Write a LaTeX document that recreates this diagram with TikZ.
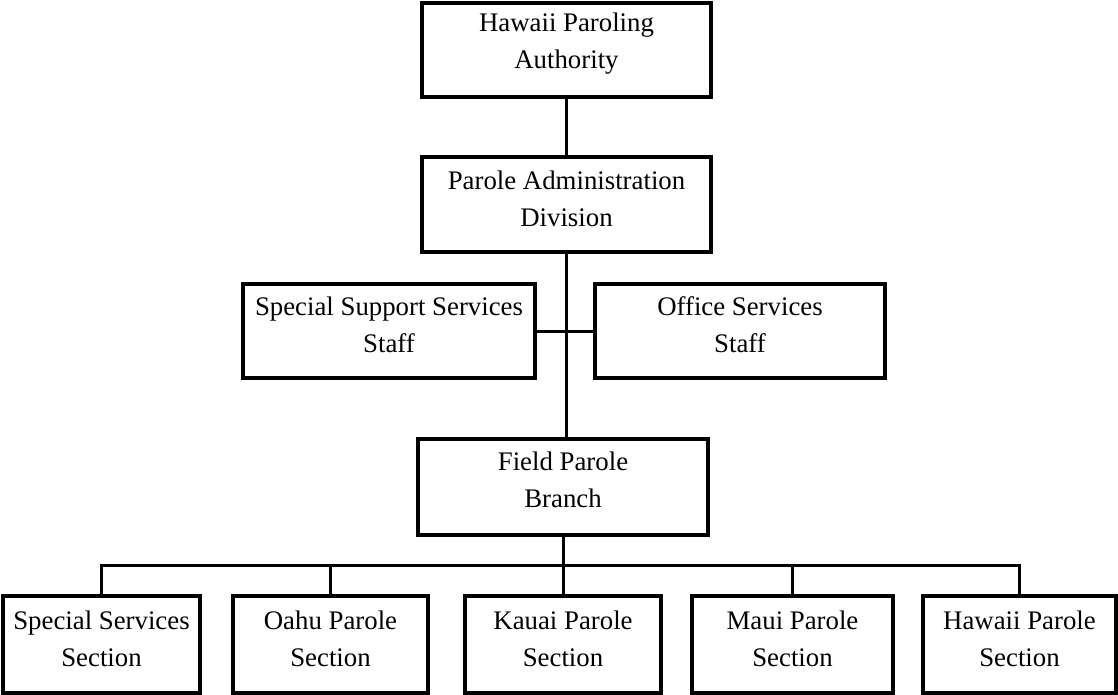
\documentclass[tikz,border=0pt]{standalone}
\usepackage{fontspec}
\setmainfont{Liberation Serif}
\begin{document}
\begin{tikzpicture}[x=1pt,y=-1pt,
  box/.style={draw=black,line width=3.2pt,minimum width=289pt,minimum height=94pt,inner sep=0pt},
  sbox/.style={box,minimum width=197pt,minimum height=97pt},
  lbl/.style={align=center,font=\fontsize{26.8}{37}\selectfont,inner sep=0pt},
  conn/.style={draw=black,line width=3pt}]
\useasboundingbox[fill=white] (0,0) rectangle (1118,694);
% boxes
\node[box] (hpa) at (566.5,50) {};
\node[box,minimum height=95pt] (pad) at (566.5,204.5) {};
\node[box,minimum width=292pt] (sss) at (389,331) {};
\node[box,minimum width=290pt] (oss) at (740,331) {};
\node[box,minimum width=290pt,minimum height=96pt] (fpb) at (563,487) {};
\node[sbox] (ssec) at (101.5,644.5) {};
\node[sbox,minimum width=195pt] (oahu) at (330.5,644.5) {};
\node[sbox,minimum width=196pt] (kauai) at (563,644.5) {};
\node[sbox,minimum width=201pt] (maui) at (792.5,644.5) {};
\node[sbox,minimum width=193pt] (hawaii) at (1019.5,644.5) {};
% labels
\node[lbl] at ([yshift=6pt]hpa.center) {Hawaii Paroling\\Authority};
\node[lbl] at ([yshift=6pt]pad.center) {Parole Administration\\Division};
\node[lbl] at ([yshift=6pt]sss.center) {Special Support Services\\Staff};
\node[lbl] at ([yshift=6pt]oss.center) {Office Services\\Staff};
\node[lbl] at ([yshift=7pt]fpb.center) {Field Parole\\Branch};
\node[lbl] at ([yshift=6pt]ssec.center) {Special Services\\Section};
\node[lbl] at ([yshift=6pt]oahu.center) {Oahu Parole\\Section};
\node[lbl] at ([yshift=6pt]kauai.center) {Kauai Parole\\Section};
\node[lbl] at ([yshift=6pt]maui.center) {Maui Parole\\Section};
\node[lbl] at ([yshift=6pt]hawaii.center) {Hawaii Parole\\Section};
% connectors
\coordinate (bus) at (563,565);
\path[conn] (hpa.south) -- (pad.north);
\path[conn] (pad.south) -- (pad.south |- fpb.north);
\path[conn] (sss.east) -- (oss.west);
\path[conn] (fpb.south) -- (kauai.north);
\path[conn] (ssec.north) |- (bus) -| (hawaii.north);
\path[conn] (oahu.north) -- (oahu.north |- bus);
\path[conn] (maui.north) -- (maui.north |- bus);
\end{tikzpicture}
\end{document}
